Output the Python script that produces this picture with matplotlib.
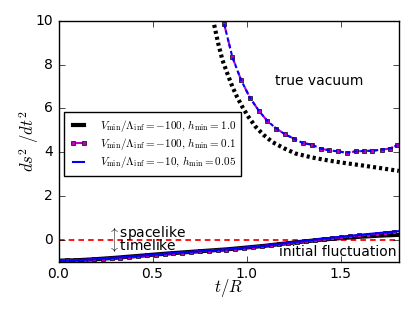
import numpy as np
import matplotlib
matplotlib.use('Agg')
import matplotlib.pyplot as plt

plt.style.use('classic')

# lower branch (initial fluctuation), solid lines
t_low = [0.0, 0.1, 0.2, 0.3, 0.4, 0.5, 0.6, 0.7, 0.8, 0.9, 1.0, 1.1, 1.2, 1.3, 1.4, 1.5, 1.6, 1.7, 1.81]
y_low_blue = [-0.95, -0.93, -0.88, -0.82, -0.75, -0.68, -0.61, -0.55, -0.49, -0.43, -0.35, -0.27,
              -0.16, -0.06, 0.05, 0.14, 0.23, 0.31, 0.40]
y_low_black = [-0.95, -0.93, -0.88, -0.82, -0.75, -0.68, -0.61, -0.55, -0.49, -0.43, -0.35, -0.27,
               -0.17, -0.08, 0.01, 0.08, 0.14, 0.19, 0.23]

t_low_m = [0.0, 0.047, 0.094, 0.141, 0.188, 0.235, 0.282, 0.329, 0.376, 0.423, 0.47, 0.517, 0.564,
           0.611, 0.658, 0.705, 0.752, 0.799, 0.846, 0.893, 0.94, 0.987, 1.034, 1.081, 1.128, 1.175,
           1.222, 1.269, 1.316, 1.363, 1.41, 1.457, 1.504, 1.551, 1.598, 1.645, 1.692, 1.739, 1.786]
y_low_m = [-0.95, -0.94, -0.93, -0.91, -0.89, -0.86, -0.84, -0.81, -0.78, -0.75, -0.71, -0.68, -0.64,
           -0.61, -0.58, -0.55, -0.52, -0.49, -0.46, -0.44, -0.40, -0.36, -0.32, -0.28, -0.24, -0.20,
           -0.16, -0.11, -0.07, -0.02, 0.03, 0.08, 0.12, 0.16, 0.20, 0.24, 0.28, 0.32, 0.36]

# upper branch (true vacuum)
t_up_black = [0.828, 0.85, 0.872, 0.9, 0.925, 0.95, 0.978, 1.01, 1.049, 1.09, 1.137, 1.2, 1.262,
              1.35, 1.438, 1.53, 1.615, 1.71, 1.81]
y_up_black = [9.82, 8.95, 8.21, 7.55, 6.99, 6.52, 6.07, 5.62, 5.16, 4.80, 4.47, 4.18, 3.94,
              3.76, 3.62, 3.50, 3.40, 3.28, 3.15]

t_up_m = [0.881, 0.925, 0.971, 1.019, 1.067, 1.111, 1.159, 1.205, 1.253, 1.30, 1.347, 1.394, 1.438,
          1.488, 1.532, 1.58, 1.624, 1.668, 1.718, 1.762, 1.80]
y_up_m = [9.86, 8.34, 7.30, 6.48, 5.88, 5.43, 5.08, 4.82, 4.62, 4.42, 4.35, 4.17, 4.09,
          4.04, 3.98, 4.04, 4.06, 4.07, 4.12, 4.17, 4.32]

fig = plt.figure(figsize=(4.15, 3.12), dpi=100)
ax = fig.add_axes([0.141, 0.161, 0.82, 0.772])

ax.axhline(0, color='r', ls='--', lw=1.3, dashes=(4, 3))

ax.plot(t_low, y_low_black, 'k-', lw=3,
        label=r'$V_{\rm min}/\Lambda_{\rm inf}=-100,\, h_{\rm min}=1.0$')
ax.plot(t_up_black, y_up_black, 'k-', lw=3, dashes=(2.2, 2.2))
ax.plot(t_low_m, y_low_m, 'm-s', lw=1.5, ms=3, mew=0.5, mec='k',
        label=r'$V_{\rm min}/\Lambda_{\rm inf}=-100,\, h_{\rm min}=0.1$')
ax.plot(t_up_m, y_up_m, 'm--s', lw=1.5, ms=3, mew=0.5, mec='k')
ax.plot(t_low, y_low_blue, 'b-', lw=1.5,
        label=r'$V_{\rm min}/\Lambda_{\rm inf}=-10,\, h_{\rm min}=0.05$')
ax.plot(t_up_m, y_up_m, 'b-', lw=1.5, dashes=(3, 2))

ax.text(1.15, 7.25, 'true vacuum', fontsize=10, ha='left', va='center')
ax.text(1.80, -0.56, 'initial fluctuation', fontsize=10, ha='right', va='center')
ax.text(0.265, 0.30, r'$\uparrow$spacelike', fontsize=10, ha='left', va='center')
ax.text(0.265, -0.27, r'$\downarrow$timelike', fontsize=10, ha='left', va='center')

ax.set_xlim(0, 1.81)
ax.set_ylim(-1, 10)
ax.set_xticks([0.0, 0.5, 1.0, 1.5])
ax.set_yticks([0, 2, 4, 6, 8, 10])
ax.tick_params(labelsize=10)
ax.set_xlabel(r'$t/R$', fontsize=12, labelpad=-3)
ax.set_ylabel(r'$ds^2\ /dt^2$', fontsize=12, labelpad=-4)

ax.legend(loc='upper left', bbox_to_anchor=(0.016, 0.622), borderaxespad=0,
          fontsize=8, numpoints=2, labelspacing=0.22, handlelength=1.6,
          handletextpad=1.1, borderpad=0.5)

fig.savefig('out.png', dpi=100)
